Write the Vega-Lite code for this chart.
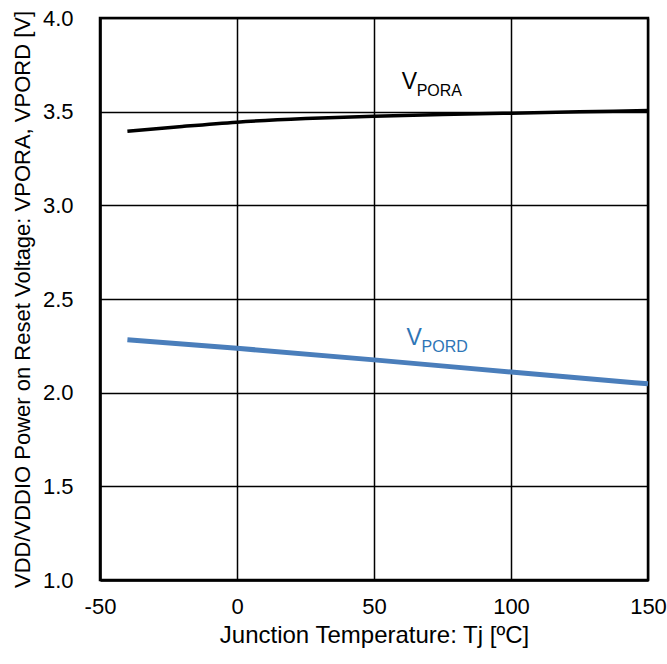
{
  "$schema": "https://vega.github.io/schema/vega-lite/v6.json",
  "autosize": "none",
  "padding": {"left": 100, "top": 18, "right": 19, "bottom": 84},
  "width": 548,
  "height": 562,
  "background": "white",
  "config": {
    "font": "Liberation Sans",
    "view": {"stroke": "black", "strokeWidth": 2.5},
    "axis": {
      "labelFont": "Liberation Sans",
      "titleFont": "Liberation Sans",
      "labelFontSize": 22,
      "titleFontSize": 22,
      "labelColor": "black",
      "titleColor": "black",
      "titleFontWeight": "normal",
      "domainColor": "black",
      "domainWidth": 2.5,
      "gridColor": "black",
      "gridWidth": 1.5,
      "gridOpacity": 1,
      "ticks": false
    }
  },
  "datasets": {
    "curves": [
      {"series": "VPORA", "tj": -40, "v": 3.395},
      {"series": "VPORA", "tj": -20, "v": 3.421},
      {"series": "VPORA", "tj": 0, "v": 3.444},
      {"series": "VPORA", "tj": 25, "v": 3.463},
      {"series": "VPORA", "tj": 50, "v": 3.476},
      {"series": "VPORA", "tj": 75, "v": 3.485},
      {"series": "VPORA", "tj": 100, "v": 3.492},
      {"series": "VPORA", "tj": 125, "v": 3.499},
      {"series": "VPORA", "tj": 150, "v": 3.506},
      {"series": "VPORD", "tj": -40, "v": 2.283},
      {"series": "VPORD", "tj": 0, "v": 2.237},
      {"series": "VPORD", "tj": 50, "v": 2.175},
      {"series": "VPORD", "tj": 100, "v": 2.110},
      {"series": "VPORD", "tj": 150, "v": 2.047}
    ],
    "labels": [
      {"series": "VPORA", "sub": "PORA", "tj": 60.1, "v": 3.62},
      {"series": "VPORD", "sub": "PORD", "tj": 61.9, "v": 2.254}
    ]
  },
  "encoding": {
    "x": {
      "field": "tj", "type": "quantitative",
      "scale": {"domain": [-50, 150], "nice": false},
      "axis": {"values": [-50, 0, 50, 100, 150], "labelExpr": "'' + datum.value", "title": "Junction Temperature: Tj [ºC]", "titleFontSize": 24, "labelPadding": 16, "titlePadding": 6, "labelFlush": false}
    },
    "y": {
      "field": "v", "type": "quantitative",
      "scale": {"domain": [1, 4], "nice": false, "zero": false},
      "axis": {"values": [1, 1.5, 2, 2.5, 3, 3.5, 4], "format": ".1f", "title": "VDD/VDDIO Power on Reset Voltage: VPORA, VPORD [V]", "labelPadding": 27, "titlePadding": 8}
    }
  },
  "layer": [
    {
      "data": {"name": "curves"},
      "mark": {"type": "line", "interpolate": "monotone", "strokeCap": "butt"},
      "encoding": {
        "color": {"field": "series", "type": "nominal", "scale": {"domain": ["VPORA", "VPORD"], "range": ["black", "#4a7ebb"]}, "legend": null},
        "strokeWidth": {"field": "series", "type": "nominal", "scale": {"domain": ["VPORA", "VPORD"], "range": [3.5, 5]}, "legend": null}
      }
    },
    {
      "data": {"name": "labels"},
      "mark": {"type": "text", "text": "V", "fontSize": 23, "align": "left", "baseline": "alphabetic"},
      "encoding": {
        "color": {"field": "series", "type": "nominal", "scale": {"domain": ["VPORA", "VPORD"], "range": ["black", "#2e75b6"]}, "legend": null}
      }
    },
    {
      "data": {"name": "labels"},
      "mark": {"type": "text", "fontSize": 16, "align": "left", "baseline": "alphabetic", "dx": 15, "dy": 7},
      "encoding": {
        "text": {"field": "sub"},
        "color": {"field": "series", "type": "nominal", "scale": {"domain": ["VPORA", "VPORD"], "range": ["black", "#2e75b6"]}, "legend": null}
      }
    }
  ],
  "resolve": {"scale": {"color": "independent"}}
}
